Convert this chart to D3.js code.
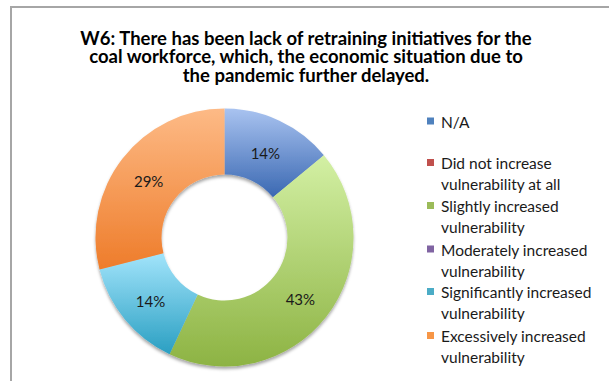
<!DOCTYPE html>
<html>
<head>
<meta charset="utf-8">
<script src="https://cdn.jsdelivr.net/npm/d3@7/dist/d3.min.js"></script>
<style>
  html, body { margin: 0; padding: 0; background: #fff; }
  svg { display: block; }
  text { font-family: Lato, "Open Sans", sans-serif; }
</style>
</head>
<body>
<svg id="chart" width="609" height="381"></svg>
<script>
// Survey answers for question W6
const titleLines = [
  "W6: There has been lack of retraining initiatives for the",
  "coal workforce, which, the economic situation due to",
  "the pandemic further delayed."
];
const categories = [
  "N/A",
  "Did not increase vulnerability at all",
  "Slightly increased vulnerability",
  "Moderately increased vulnerability",
  "Significantly increased vulnerability",
  "Excessively increased vulnerability"
];
const legendLines = [
  ["N/A"],
  ["Did not increase", "vulnerability at all"],
  ["Slightly increased", "vulnerability"],
  ["Moderately increased", "vulnerability"],
  ["Significantly increased", "vulnerability"],
  ["Excessively increased", "vulnerability"]
];
const shares = [14, 0, 43, 0, 14, 29];   // percent of respondents
const baseColors = ["#4f81bd", "#c0504d", "#9bbb59", "#8064a2", "#4bacc6", "#f79646"];
const lightColors = ["#a9c3f0", "#e58a88", "#d3f0a4", "#b49ad4", "#a2e4fb", "#fdba86"];
const darkColors = ["#3a68b2", "#a83c3a", "#8db343", "#6a4f8f", "#2a9fc2", "#ee7c2a"];

const svg = d3.select("#chart");
const defs = svg.append("defs");

// vertical light-to-dark gradient for each slice
categories.forEach((c, i) => {
  const g = defs.append("linearGradient")
    .attr("id", "grad" + i)
    .attr("x1", 0).attr("y1", 0).attr("x2", 0).attr("y2", 1);
  g.append("stop").attr("offset", "0%").attr("stop-color", lightColors[i]);
  g.append("stop").attr("offset", "100%").attr("stop-color", darkColors[i]);
});

const shadow = defs.append("filter").attr("id", "shadow")
  .attr("x", "-10%").attr("y", "-10%").attr("width", "120%").attr("height", "125%");
shadow.append("feDropShadow")
  .attr("dx", 0).attr("dy", 2.5).attr("stdDeviation", 1.6)
  .attr("flood-color", "#000").attr("flood-opacity", 0.35);

// frame
svg.append("rect")
  .attr("x", 11).attr("y", 7)
  .attr("width", 640).attr("height", 400)
  .attr("fill", "none")
  .attr("stroke", "#a6a6a6")
  .attr("stroke-width", 2);

// title
svg.append("g").selectAll("text")
  .data(titleLines)
  .join("text")
  .attr("x", 306)
  .attr("y", (d, i) => 45 + i * 18.3)
  .attr("text-anchor", "middle")
  .attr("font-size", 18.5)
  .attr("font-weight", "bold")
  .attr("fill", "#000")
  .text(d => d);

// donut
const cx = 224.5, cy = 237.5;
const outerR = 129, innerR = 63;
const pie = d3.pie().sort(null).value(d => d);
const arcs = pie(shares);
const arc = d3.arc().innerRadius(innerR).outerRadius(outerR);

const donut = svg.append("g").attr("transform", `translate(${cx},${cy})`);
donut.append("g")
  .attr("filter", "url(#shadow)")
  .selectAll("path")
  .data(arcs.filter(d => d.value > 0))
  .join("path")
  .attr("d", arc)
  .attr("fill", d => `url(#grad${d.index})`);

donut.selectAll("text.pct")
  .data(arcs.filter(d => d.value > 0))
  .join("text")
  .attr("class", "pct")
  .attr("transform", d => {
    const [x, y] = arc.centroid(d);
    return `translate(${x},${y + 3})`;
  })
  .attr("text-anchor", "middle")
  .attr("dy", "0.35em")
  .attr("font-size", 15)
  .attr("fill", "#1a1a1a")
  .text(d => d3.format(".0f")(d.value) + "%");

// legend
const legendTops = [122.5, 164, 207, 250.5, 293, 337];
const legend = svg.append("g");
const items = legend.selectAll("g")
  .data(categories)
  .join("g")
  .attr("transform", (d, i) => `translate(0,${legendTops[i]})`);
items.append("rect")
  .attr("x", 427).attr("y", -5)
  .attr("width", 7).attr("height", 7)
  .attr("fill", (d, i) => baseColors[i]);
items.each(function (d, i) {
  d3.select(this).selectAll("text")
    .data(legendLines[i])
    .join("text")
    .attr("x", 441)
    .attr("y", (t, j) => j * 21)
    .attr("dy", "0.35em")
    .attr("font-size", 15.5)
    .attr("fill", "#1a1a1a")
    .text(t => t);
});
</script>
</body>
</html>
